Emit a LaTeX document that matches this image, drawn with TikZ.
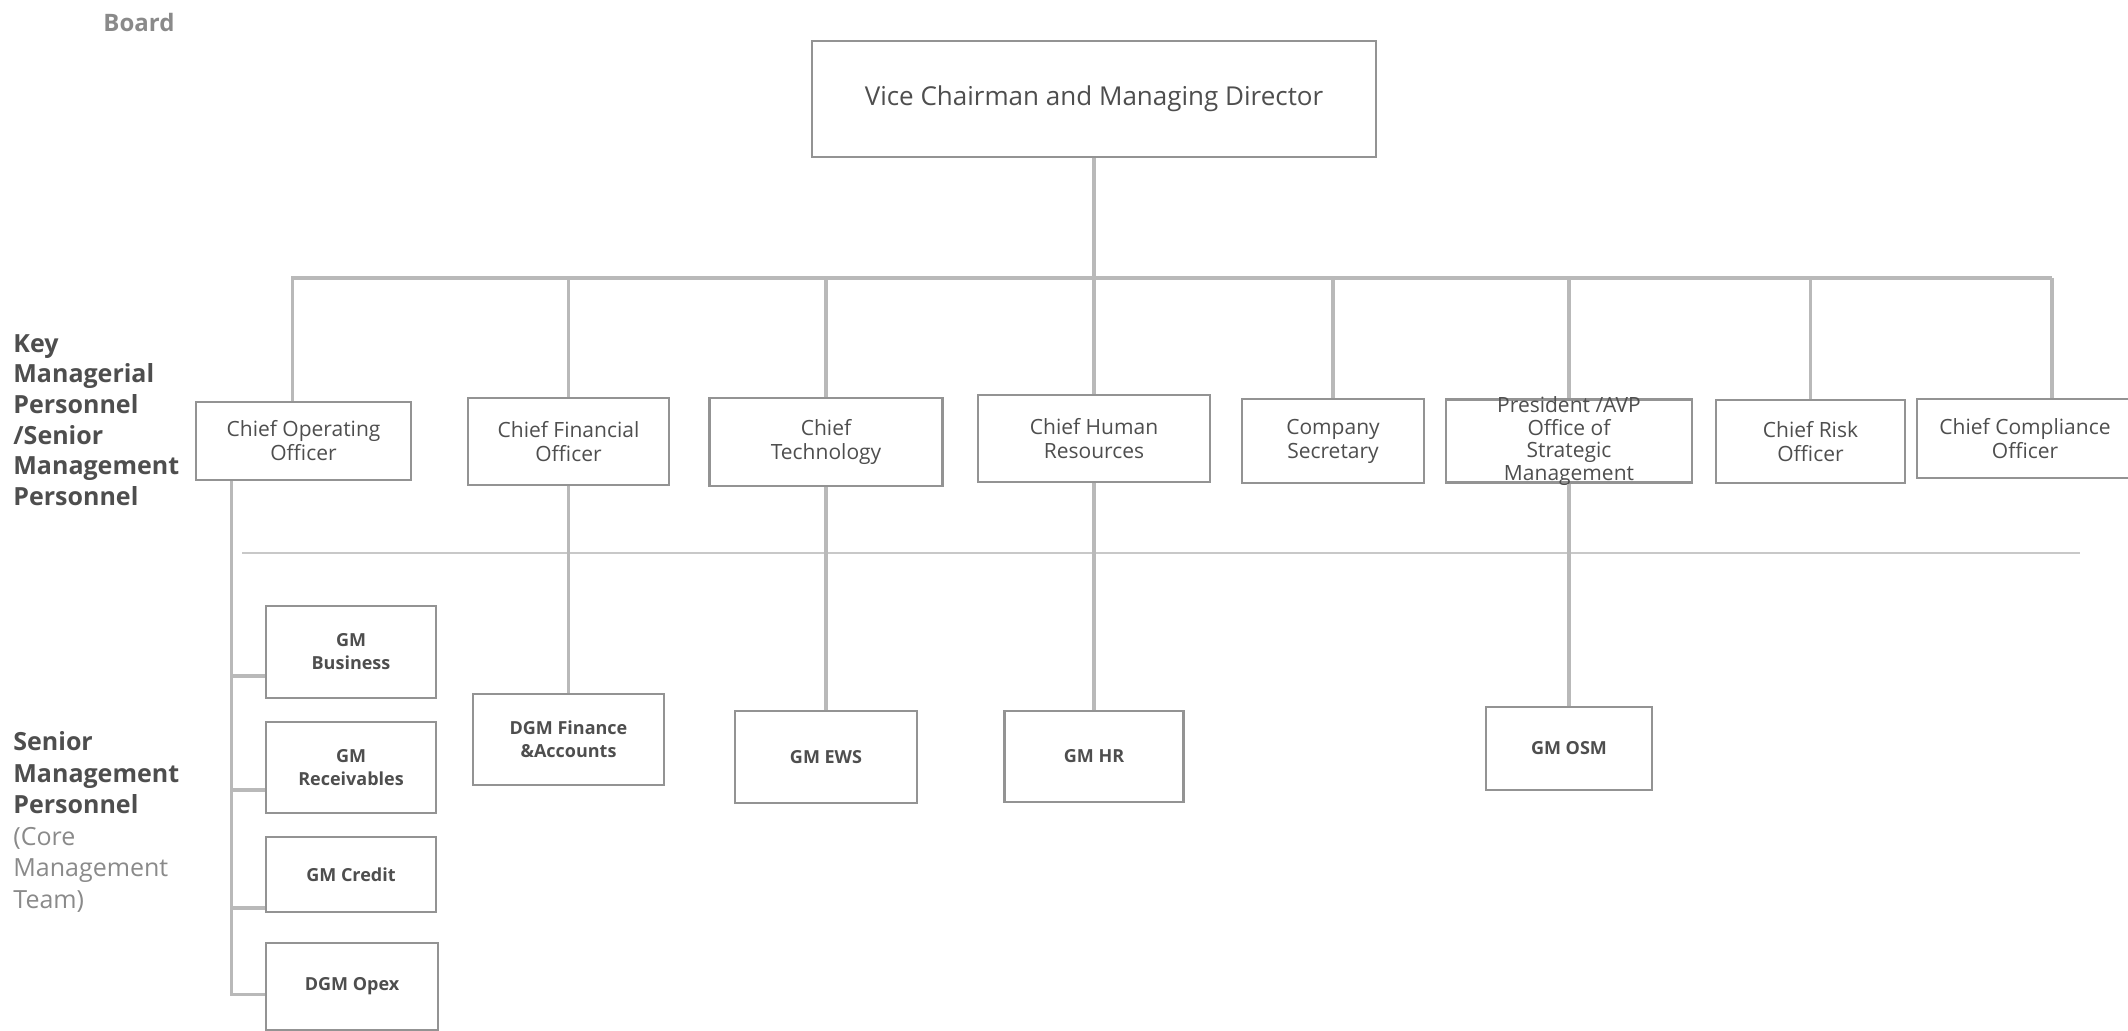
\documentclass[tikz,border=0pt]{standalone}
\usepackage{fontspec}
\setmainfont{Open Sans}
\definecolor{linegray}{HTML}{B9B9B9}
\definecolor{sepgray}{HTML}{C8C8C8}
\definecolor{boxgray}{HTML}{939393}
\definecolor{textgray}{HTML}{4E4E4E}
\definecolor{softgray}{HTML}{8A8A8A}
\newcommand{\softline}[1]{{\mdseries\color{softgray}#1}}
\begin{document}
\begin{tikzpicture}[x=0.5pt, y=-0.5pt,
    link style/.style={draw=linegray, line width=1.6pt},
    sep style/.style={draw=sepgray, line width=1.2pt},
    box style/.style={draw=boxgray, line width=1.4pt, rectangle, align=center,
        inner sep=0pt, text=textgray, font=\fontsize{10.5}{12}\selectfont},
    gm style/.style={box style, font=\bfseries\fontsize{9}{11.5}\selectfont},
    side style/.style={anchor=north west, align=left, inner sep=0pt,
        text=textgray, font=\bfseries\fontsize{12.5}{15.3}\selectfont}]
    \useasboundingbox (0,0) rectangle (2128,1031);
    \clip (0,0) rectangle (2128,1031);

    % side labels
    \node[side style, anchor=west, text=softgray, font=\bfseries\fontsize{12}{14}\selectfont] (board) at (103,23) {Board};
    \node[side style] (kmp) at (13,334) {Key\\Managerial\\Personnel\\/Senior\\Management\\Personnel};
    \node[side style, font=\bfseries\fontsize{12.5}{15.8}\selectfont] (smp) at (13,731)
        {Senior\\Management\\Personnel\\\softline{(Core}\\\softline{Management}\\\softline{Team)}};

    % top
    \node[box style, minimum width=282pt, minimum height=58pt,
        font=\fontsize{13}{15}\selectfont] (vc) at (1094,99) {Vice Chairman and Managing Director};

    % key managerial personnel
    \node[box style, minimum width=107.5pt, minimum height=39pt] (coo) at (303.5,441) {Chief Operating\\Officer};
    \node[box style, minimum width=100.5pt, minimum height=43.5pt] (cfo) at (568.5,441.5) {Chief Financial\\Officer};
    \node[box style, minimum width=116.5pt, minimum height=44pt] (ct) at (826,442) {Chief\\Technology};
    \node[box style, minimum width=116pt, minimum height=43.5pt] (chr) at (1094,438.5) {Chief Human\\Resources};
    \node[box style, minimum width=91pt, minimum height=42pt] (cs) at (1333,441) {Company\\Secretary};
    \node[box style, minimum width=123pt, inner ysep=-1.5pt,
        font=\fontsize{10.5}{11.4}\selectfont] (pres) at (1569,441) {President /AVP\\Office of\\Strategic\\Management};
    \node[box style, minimum width=94.5pt, minimum height=41.5pt] (cro) at (1810.5,441.5) {Chief Risk\\Officer};
    \node[box style, minimum width=108pt, minimum height=39.5pt] (cco) at (2025,438.5) {Chief Compliance\\Officer};

    % senior management
    \node[gm style, minimum width=85pt, minimum height=46pt] (gmbus) at (351,652) {GM\\Business};
    \node[gm style, minimum width=85pt, minimum height=45.5pt] (gmrec) at (351,767.5) {GM\\Receivables};
    \node[gm style, minimum width=85pt, minimum height=37.5pt] (gmcred) at (351,874.5) {GM Credit};
    \node[gm style, minimum width=86pt, minimum height=43.5pt] (opex) at (352,986.5) {DGM Opex};
    \node[gm style, minimum width=95.5pt, minimum height=45.5pt] (dgmfin) at (568.5,739.5) {DGM Finance\\\&Accounts};
    \node[gm style, minimum width=91pt, minimum height=46pt] (gmews) at (826,757) {GM EWS};
    \node[gm style, minimum width=89.5pt, minimum height=45.5pt] (gmhr) at (1094,756.5) {GM HR};
    \node[gm style, minimum width=83pt, minimum height=41.5pt] (gmosm) at (1569,748.5) {GM OSM};

    \coordinate (busR) at (2052,278);

    \draw[link style] (vc.south) -- (chr.north);
    \draw[link style] ([xshift=-5.5pt]coo.north) |- (busR);
    \draw[link style] (busR) -- (busR |- cco.north);
    \foreach \n in {cfo,ct,cs,pres,cro}
        \draw[link style] (\n.north) -- (\n.north |- busR);

    \draw[sep style] (242,553) -- (2080,553);

    \draw[link style] (cfo.south) -- (dgmfin.north);
    \draw[link style] (ct.south) -- (gmews.north);
    \draw[link style] (chr.south) -- (gmhr.north);
    \draw[link style] (pres.south) -- (gmosm.north);

    \coordinate (spine) at ([xshift=18.5pt]coo.south west);
    \draw[link style] (spine) |- ([yshift=-4pt]opex.west);
    \draw[link style] ([yshift=-12pt]gmbus.west) -- ++(-16.5pt,0);
    \draw[link style] ([yshift=-11.25pt]gmrec.west) -- ++(-16.5pt,0);
    \draw[link style] ([yshift=-16.75pt]gmcred.west) -- ++(-16.5pt,0);

\end{tikzpicture}
\end{document}
